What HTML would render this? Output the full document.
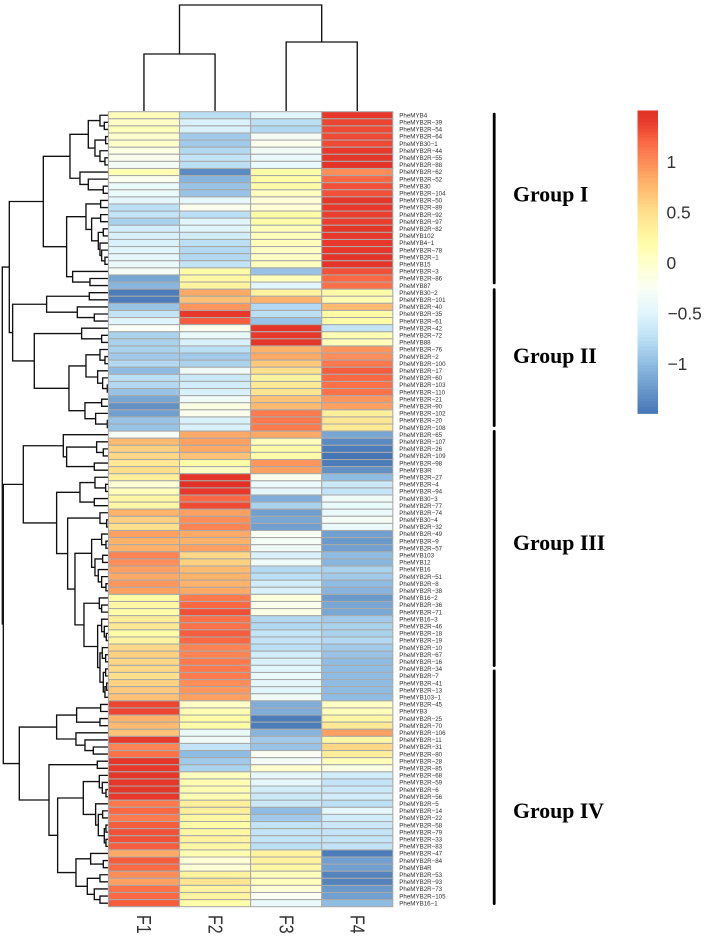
<!DOCTYPE html>
<html lang="en">
<head>
<meta charset="utf-8">
<title>PheMYB heatmap</title>
<style>
html,body{margin:0;padding:0;background:#fff;width:708px;height:937px;overflow:hidden}
svg{display:block;filter:blur(.35px)}
text{font-family:"Liberation Sans",Arial,sans-serif}
.group{font-family:"Liberation Serif",serif;font-weight:bold;font-size:21.8px;fill:#000}
</style>
</head>
<body>
<svg id="chart" xmlns="http://www.w3.org/2000/svg" width="708" height="937" viewBox="0 0 708 937">
  <rect x="0" y="0" width="708" height="937" fill="#fff"/>
  <g id="col-dendro"></g>
  <g id="row-dendro"></g>
  <g id="cells"></g>
  <g id="row-labels"></g>
  <g id="col-labels"></g>
  <g id="legend"></g>

  <rect x="492.8" y="112.7" width="2.8" height="171.6" rx="1.2" fill="#000"/>
  <rect x="492.8" y="288.3" width="2.8" height="138.7" rx="1.2" fill="#000"/>
  <rect x="492.8" y="430" width="2.8" height="237" rx="1.2" fill="#000"/>
  <rect x="492.8" y="669.5" width="2.8" height="235.5" rx="1.2" fill="#000"/>
  <text class="group" x="513" y="201.7">Group I</text>
  <text class="group" x="513" y="363">Group II</text>
  <text class="group" x="513" y="550">Group III</text>
  <text class="group" x="513" y="818">Group IV</text>
</svg>
<script>
const rowLabels = ["PheMYB4","PheMYB2R−39","PheMYB2R−54","PheMYB2R−64","PheMYB30−1","PheMYB2R−44","PheMYB2R−55","PheMYB2R−88","PheMYB2R−62","PheMYB2R−52","PheMYB30","PheMYB2R−104","PheMYB2R−50","PheMYB2R−89","PheMYB2R−92","PheMYB2R−97","PheMYB2R−82","PheMYB102","PheMYB4−1","PheMYB2R−78","PheMYB2R−1","PheMYB15","PheMYB2R−3","PheMYB2R−86","PheMYB87","PheMYB30−2","PheMYB2R−101","PheMYB2R−40","PheMYB2R−35","PheMYB2R−61","PheMYB2R−42","PheMYB2R−72","PheMYB88","PheMYB2R−76","PheMYB2R−2","PheMYB2R−100","PheMYB2R−17","PheMYB2R−60","PheMYB2R−103","PheMYB2R−110","PheMYB2R−21","PheMYB2R−90","PheMYB2R−102","PheMYB2R−20","PheMYB2R−108","PheMYB2R−65","PheMYB2R−107","PheMYB2R−26","PheMYB2R−109","PheMYB2R−98","PheMYB3R","PheMYB2R−27","PheMYB2R−4","PheMYB2R−94","PheMYB30−3","PheMYB2R−77","PheMYB2R−74","PheMYB30−4","PheMYB2R−32","PheMYB2R−49","PheMYB2R−9","PheMYB2R−57","PheMYB103","PheMYB12","PheMYB16","PheMYB2R−51","PheMYB2R−8","PheMYB2R−38","PheMYB16−2","PheMYB2R−36","PheMYB2R−71","PheMYB16−3","PheMYB2R−46","PheMYB2R−18","PheMYB2R−19","PheMYB2R−10","PheMYB2R−67","PheMYB2R−16","PheMYB2R−34","PheMYB2R−7","PheMYB2R−41","PheMYB2R−13","PheMYB103−1","PheMYB2R−45","PheMYB3","PheMYB2R−25","PheMYB2R−70","PheMYB2R−106","PheMYB2R−11","PheMYB2R−31","PheMYB2R−80","PheMYB2R−28","PheMYB2R−85","PheMYB2R−68","PheMYB2R−59","PheMYB2R−6","PheMYB2R−56","PheMYB2R−5","PheMYB2R−14","PheMYB2R−22","PheMYB2R−58","PheMYB2R−79","PheMYB2R−33","PheMYB2R−83","PheMYB2R−47","PheMYB2R−84","PheMYB4R","PheMYB2R−53","PheMYB2R−93","PheMYB2R−73","PheMYB2R−105","PheMYB16−1"];
const colLabels = ["F1","F2","F3","F4"];
const legendTicks = [1,0.5,0,-0.5,-1];
const legendTickText = ["1","0.5","0","−0.5","−1"];

const f1 = [.1,.05,.1,0,.02,-.15,-.2,-.3,.15,-.2,-.4,-.4,-.45,-.75,-.7,-.85,-.6,-.55,-.55,-.5,-.45,-.4,-.3,-1.15,-1.05,-1.45,-1.45,-.95,-.7,-.5,-.25,-.85,-.85,-.85,-.9,-.8,-1,-.75,-.8,-.95,-1.15,-1.3,-1.2,-.95,-.95,-.3,.75,.6,.55,.4,.5,.35,-.05,.1,.25,.25,.8,.6,.5,.9,.8,.8,1.05,1,.9,.85,.95,.9,.2,.25,.2,.35,.4,.2,.3,.55,.6,.55,.55,.5,.6,.65,.7,1.35,1.35,.8,.75,.7,1.4,1.05,1.15,1.45,1.42,1.45,1.45,1.45,1.42,1.1,1.2,1.1,1.25,1.3,1.3,1.25,.85,1.25,1.2,1,.9,1.15,1.2,1.25];
const f2 = [-.75,-.55,-.55,-.9,-.9,-.8,-.7,-.75,-1.35,-1.05,-.95,-.95,-.45,-.2,-.75,-.5,-.5,-.6,-.75,-.8,-.8,-.7,.2,.25,.3,.85,.7,.95,1.42,1.25,-.2,-.4,-.55,-.75,-.9,-.85,-.35,-.65,-.6,-.55,-.35,-.15,-.2,-.55,-.55,.85,.9,.85,.7,.2,.05,1.45,1.5,1.42,1.2,1.33,.9,1,1.05,.85,.8,.9,.55,.6,.75,.8,.8,.85,1.1,1.2,1.3,1.15,1.15,1.25,1.2,1.05,1.05,1.1,1.1,1.1,1,.95,.9,.05,.15,.2,.2,-.4,-.35,-.7,-1,-.9,-.85,.1,.15,.15,.15,.35,.35,.25,.2,.25,.3,.25,.15,-.05,-.05,.3,.45,.3,.3,.2];
const f3 = [-.5,-.75,-.8,-.3,-.2,-.35,-.4,-.4,.2,.2,.2,.08,-.05,-.05,.2,.2,.1,.1,.1,.05,.05,.08,-.95,.1,-.5,.3,.8,-.8,-.75,-.95,1.45,1.4,1.45,.8,.85,.65,.5,.3,.4,.45,.7,.75,1.1,1.1,1.1,.85,.1,.2,.2,.95,.9,-.2,-.4,-.45,-1.1,-.85,-1.2,-1.15,-1.2,-.25,-.3,-.35,-.55,-.35,-.8,-.75,-.6,-.55,-.1,-.2,-.15,-.8,-.8,-.7,-.7,-.75,-.6,-.55,-.5,-.4,-.45,-.5,-.35,-1.1,-1.1,-1.45,-1.45,-1.05,-.9,-.95,-.25,-.3,0,-.45,-.45,-.6,-.65,-.65,-1,-.9,-.7,-.7,-.7,-.75,.3,.3,.25,.1,.1,-.05,-.25,-.4];
const f4 = [1.42,1.35,1.33,1.33,1.33,1.42,1.45,1.47,1,1.2,1.3,1.3,1.45,1.42,1.38,1.38,1.45,1.42,1.42,1.42,1.47,1.47,1.3,1.2,1.15,.22,.15,.75,.22,.2,-.7,.15,.12,.95,1,1.12,1.25,1.2,1.15,1.15,.95,.9,.35,.45,.4,-1.15,-1.35,-1.45,-1.5,-1.45,-1.3,-1,-.65,-.7,-.35,-.4,-.4,-.3,-.4,-1.2,-1.25,-1.2,-1,-1.05,-.85,-.9,-1,-1.05,-1.25,-1.15,-1.15,-.9,-.85,-.85,-.8,-.9,-.95,-1,-1,-1,-1,-1,-1,.05,.1,.25,.4,.9,.25,.55,.35,.12,-.15,-.6,-.7,-.65,-.6,-.75,-.45,-.6,-.65,-.7,-.7,-.7,-1.45,-1.2,-1.2,-1.4,-1.4,-1.25,-1.2,-1];
const seriesValues = [f1,f2,f3,f4];

/* dendrogram merges: [height, childA, childB]; 0 = next leaf */
const groupOneA = [115,[60,[25,0,[12,0,0]],[40,[8,0,0],[25,0,[10,0,0]]]],[85,0,[60,0,[15,0,0]]]];
const groupOneB = [125,[67,[23,0,0],[50,[23,0,0],[30,[15,0,0],[25,0,[20,0,[10,0,0]]]]]],[107,0,[55,0,0]]];
const groupTwo = [287,[185,[57,0,0],[93,0,[42,0,0]]],[222,[80,0,[20,0,0]],[118,[67,[25,0,[10,0,0]],[32,0,[17,0,[3,0,0]]]],[70,[20,0,0],[38,0,[3,0,0]]]]]];
const groupThree = [255,[135,0,[125,[35,0,[15,0,0]],[42,0,0]]],[155,[85,[40,0,[8,0,0]],[42,0,0]],[122,[25,0,[5,0,0]],[100,[50,[20,0,[7,0,0]],[40,[17,0,0],[30,0,[20,0,[7,0,0]]]]],[73,[27,0,[20,0,0]],[32,[20,0,[12,0,[6,0,0]]],[25,[18,0,[8,0,0]],[15,[8,0,0],[10,[5,0,0],0]]]]]]]]];
const groupFour = [267,[155,[95,[23,0,0],[25,0,0]],[97,0,[70,0,[45,0,0]]]],[178,[33,0,0],[152,[75,[27,0,[18,0,[7,0,0]]],[38,0,[30,[17,0,0],[12,[7,0,0],[7,0,0]]]]],[97,[53,0,[15,0,0]],[63,[25,0,0],[42,0,[25,0,0]]]]]]];
const rowTree = [318,[297,[195,groupOneA,groupOneB],groupTwo],[315,groupThree,groupFour]];
const colTree = [106,[57,0,0],[69,0,0]];

const NS = "http://www.w3.org/2000/svg";
const plotLeft = 108.4, plotTop = 111.7, cellW = 71.1, cellH = 795 / 112;
const xCol = j => plotLeft + j * cellW;
const yRow = i => plotTop + i * cellH;
const xRowDendro = h => 108.3 - h / 3;
const yColDendro = h => 111 - h;
const yLegend = v => 263 - 101 * v;

const colorStops = [[-1.5,[69,117,180]],[-1,[143,188,226]],[-.75,[187,224,245]],[-.5,[224,245,252]],[-.25,[250,254,244]],[0,[255,255,205]],[.2,[255,252,168]],[.5,[254,224,140]],[.8,[254,178,106]],[1,[253,141,89]],[1.2,[250,104,68]],[1.4,[232,58,44]],[1.5,[226,50,40]]];
function color(v){
  if(v<=colorStops[0][0]) return "rgb("+colorStops[0][1].join(",")+")";
  for(let k=1;k<colorStops.length;k++){
    if(v<=colorStops[k][0]){
      const a=colorStops[k-1],b=colorStops[k],t=(v-a[0])/(b[0]-a[0]);
      return "rgb("+a[1].map((c,n)=>Math.round(c+(b[1][n]-c)*t)).join(",")+")";
    }
  }
  return "rgb("+colorStops[colorStops.length-1][1].join(",")+")";
}
function make(tag, attrs, parent){
  const el=document.createElementNS(NS,tag);
  for(const k in attrs) el.setAttribute(k,attrs[k]);
  parent.appendChild(el);
  return el;
}

/* heatmap */
const cellsG=document.getElementById("cells");
seriesValues.forEach((vals,j)=>{
  vals.forEach((v,i)=>{
    const r=make("rect",{x:xCol(j),y:yRow(i),width:cellW,height:cellH,fill:color(v),stroke:"#a9a9a9","stroke-width":1.05},cellsG);
    
    
  });
});

/* row labels */
const rowG=document.getElementById("row-labels");
rowLabels.forEach((s,i)=>{
  const t=make("text",{x:399.3,y:yRow(i)+cellH/2+2.2,"font-size":6.2,fill:"#2e2e2e"},rowG);
  t.textContent=s;
  
  
});

/* column labels */
const colG=document.getElementById("col-labels");
colLabels.forEach((s,j)=>{
  const cx=xCol(j)+cellW/2;
  const t=make("text",{x:0,y:0,"font-size":20,fill:"#333",transform:"translate("+(cx-6.8)+",915) rotate(90) scale(.8,1)"},colG);
  t.textContent=s;
  
  
});

/* row dendrogram */
const rowDendro=document.getElementById("row-dendro");
let leafRow=0;
function drawRowNode(n){
  if(n===0){const y=yRow(leafRow)+cellH/2;leafRow++;return {h:0,y:y};}
  const a=drawRowNode(n[1]),b=drawRowNode(n[2]),x=xRowDendro(n[0]);
  const p=make("path",{d:"M"+xRowDendro(a.h)+" "+a.y+"H"+x+"V"+b.y+"H"+xRowDendro(b.h),fill:"none",stroke:"#111","stroke-width":1.35},rowDendro);
  
  
  return {h:n[0],y:(a.y+b.y)/2};
}
drawRowNode(rowTree);

/* column dendrogram */
const colDendro=document.getElementById("col-dendro");
let leafCol=0;
function drawColNode(n){
  if(n===0){const x=xCol(leafCol)+cellW/2;leafCol++;return {h:0,x:x};}
  const a=drawColNode(n[1]),b=drawColNode(n[2]),y=yColDendro(n[0]);
  const p=make("path",{d:"M"+a.x+" "+yColDendro(a.h)+"V"+y+"H"+b.x+"V"+yColDendro(b.h),fill:"none",stroke:"#111","stroke-width":1.35},colDendro);
  
  
  return {h:n[0],x:(a.x+b.x)/2};
}
drawColNode(colTree);

/* legend */
const legendG=document.getElementById("legend");
const bandCount=100, vMin=-1.49, vMax=1.51;
for(let b=0;b<bandCount;b++){
  const v1=vMax-(vMax-vMin)*b/bandCount, v2=vMax-(vMax-vMin)*(b+1)/bandCount;
  const r=make("rect",{x:637.5,y:yLegend(v1),width:20.5,height:yLegend(v2)-yLegend(v1)+.4,fill:color((v1+v2)/2)},legendG);
  
  
}
legendTicks.forEach((v,k)=>{
  const t=make("text",{x:legendTicks[k]<0?667.5:666.5,y:yLegend(v)+6.2,"font-size":17.4,fill:"#333"},legendG);
  t.textContent=legendTickText[k];
  
  
});
</script>
</body>
</html>
